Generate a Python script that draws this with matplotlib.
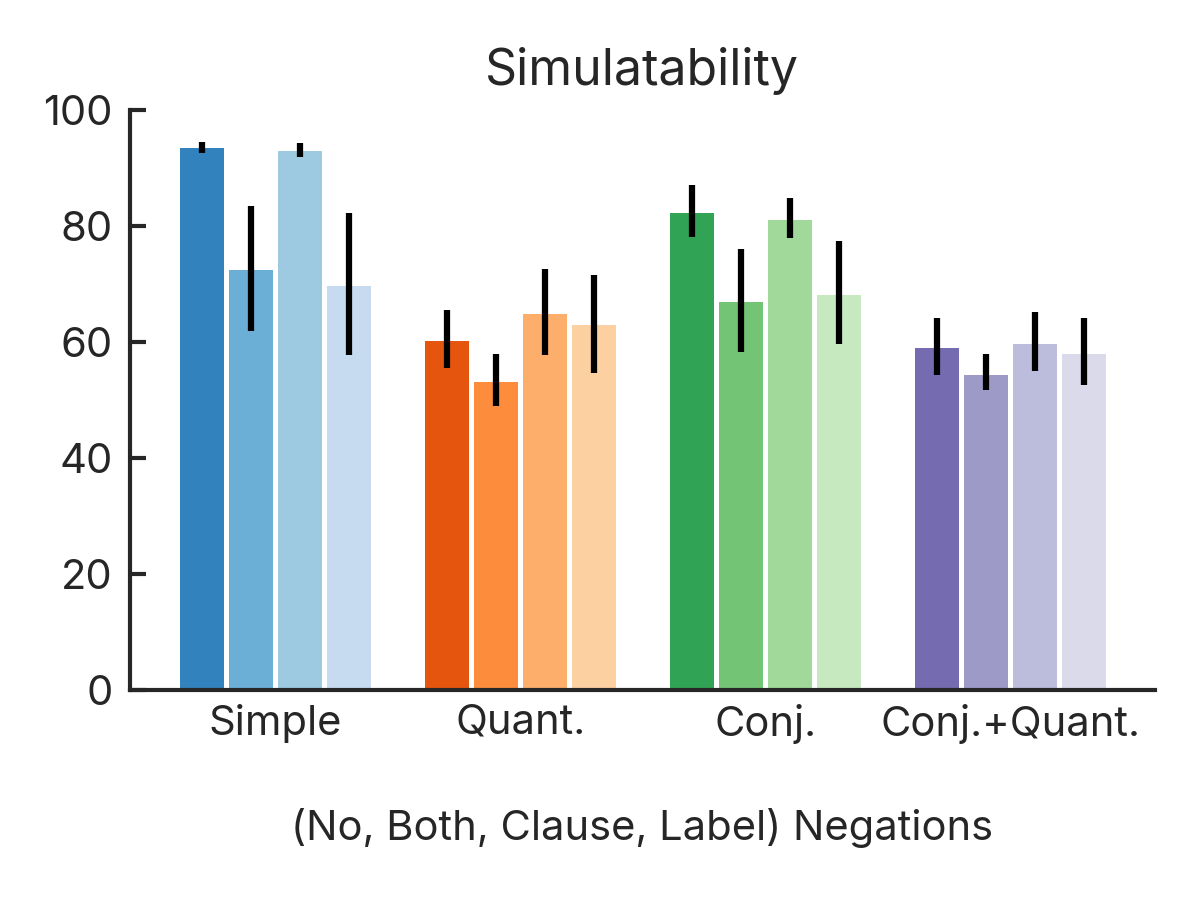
import matplotlib
matplotlib.use("Agg")
import matplotlib.pyplot as plt
import numpy as np

plt.rcParams['font.family'] = ['Inter', 'DejaVu Sans']

groups = ["Simple", "Quant.", "Conj.", "Conj.+Quant."]
variants = ["No", "Both", "Clause", "Label"]

# mean accuracy per group (rows) and negation variant (columns)
means = np.array([
    [93.4, 72.4, 92.9, 69.7],
    [60.2, 53.1, 64.8, 62.9],
    [82.2, 66.9, 81.0, 68.1],
    [59.0, 54.3, 59.7, 57.9],
])
err_low = np.array([
    [92.6, 61.9, 91.9, 57.8],
    [55.5, 49.0, 57.8, 54.7],
    [78.1, 58.3, 77.9, 59.7],
    [54.3, 51.7, 55.0, 52.6],
])
err_high = np.array([
    [94.5, 83.4, 94.3, 82.2],
    [65.5, 57.9, 72.6, 71.6],
    [87.1, 76.0, 84.8, 77.4],
    [64.1, 57.9, 65.2, 64.1],
])

colors = plt.cm.tab20c(np.arange(16)).reshape(4, 4, 4)

fig = plt.figure(figsize=(4, 3), dpi=300)
ax = fig.add_axes([0.108, 0.2333, 0.8545, 0.6445])

x = np.arange(len(groups))
step = 0.2
for j in range(len(variants)):
    pos = x + (j - 1.5) * step
    ax.bar(pos, means[:, j], width=0.18, color=colors[:, j], zorder=1)
    ax.vlines(pos, err_low[:, j], err_high[:, j], color='black', lw=1.5, zorder=2)

text_col = '#262626'
ax.set_xlim(-0.596, 3.59)
ax.set_ylim(0, 100)
ax.set_yticks([0, 20, 40, 60, 80, 100])
ax.set_xticks(x)
ax.set_xticklabels(groups)
for s in ['top', 'right']:
    ax.spines[s].set_visible(False)
for s in ['left', 'bottom']:
    ax.spines[s].set_color(text_col)
    ax.spines[s].set_linewidth(1.0)
ax.tick_params(axis='y', direction='in', length=3.8, width=1.0, color=text_col,
               labelsize=10, labelcolor=text_col, pad=4)
ax.tick_params(axis='x', length=0, labelsize=10, labelcolor=text_col, pad=3.3)
ax.set_title("Simulatability", fontsize=12, color=text_col, pad=6)
ax.set_xlabel("(No, Both, Clause, Label) Negations", fontsize=10, color=text_col,
              labelpad=15.5)

plt.savefig("out.png", dpi=300)
